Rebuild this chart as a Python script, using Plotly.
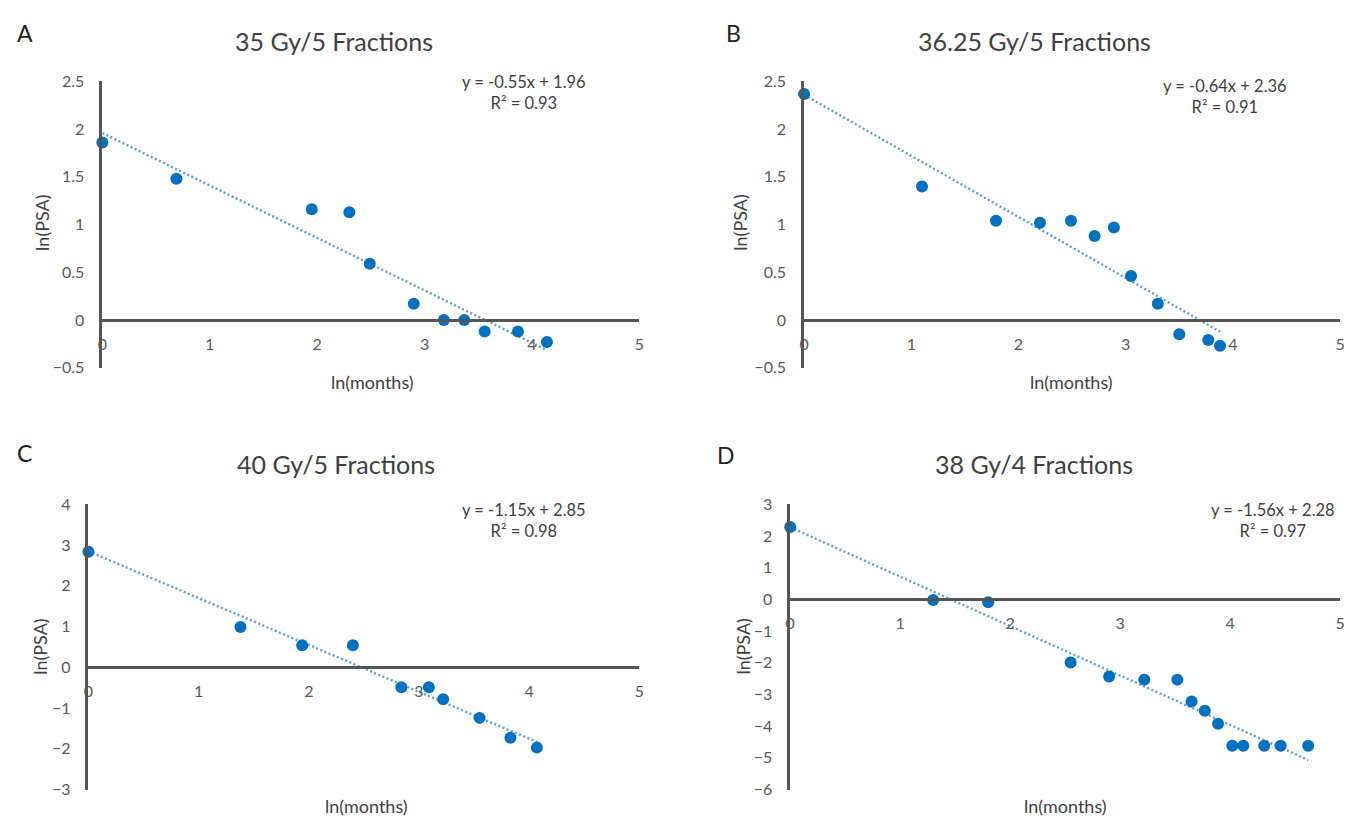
import plotly.graph_objects as go

# page is 1365x831; the html body has an 8px margin, so the figure is inset
PAGE_W, PAGE_H = 1365, 831
OFF = 8
W, H = PAGE_W - 2 * OFF, PAGE_H - 2 * OFF

# ---------------- data ----------------
panel_letters = ["A", "B", "C", "D"]
panel_titles = ["35 Gy/5 Fractions", "36.25 Gy/5 Fractions", "40 Gy/5 Fractions", "38 Gy/4 Fractions"]

x_a = [0, 0.69, 1.95, 2.30, 2.49, 2.90, 3.18, 3.37, 3.56, 3.87, 4.14]
y_a = [1.86, 1.48, 1.16, 1.13, 0.59, 0.17, 0.0, 0.0, -0.12, -0.12, -0.23]

x_b = [0, 1.10, 1.79, 2.20, 2.49, 2.71, 2.89, 3.05, 3.30, 3.50, 3.77, 3.88]
y_b = [2.37, 1.40, 1.04, 1.02, 1.04, 0.88, 0.97, 0.46, 0.17, -0.15, -0.21, -0.27]

x_c = [0, 1.38, 1.94, 2.40, 2.84, 3.09, 3.22, 3.55, 3.83, 4.07]
y_c = [2.84, 0.99, 0.54, 0.54, -0.49, -0.49, -0.78, -1.24, -1.73, -1.97]

x_d = [0, 1.30, 1.80, 2.55, 2.90, 3.22, 3.52, 3.65, 3.77, 3.89, 4.02, 4.12, 4.31, 4.46, 4.71]
y_d = [2.29, -0.02, -0.09, -1.99, -2.43, -2.53, -2.53, -3.22, -3.51, -3.92, -4.62, -4.62, -4.62, -4.62, -4.62]

slopes = [-0.55, -0.64, -1.15, -1.56]
intercepts = [1.96, 2.36, 2.85, 2.28]
r_squared = [0.93, 0.91, 0.98, 0.97]

y_ranges = [[-0.5, 2.5], [-0.5, 2.5], [-3, 4], [-6, 3]]
y_dticks = [0.5, 0.5, 1, 1]
x_range = [0, 5]
x_tickvals = [0, 1, 2, 3, 4, 5]
x_title = "ln(months)"
y_title = "ln(PSA)"

xs = [x_a, x_b, x_c, x_d]
ys = [y_a, y_b, y_c, y_d]

# ---------------- layout (page pixels) ----------------
boxes = [(98, 639, 73, 366), (805, 1345, 73, 366), (84, 639, 506, 798), (791, 1345, 506, 798)]
title_pos = [(331, 32), (1037, 32), (333, 465), (1037, 465)]
letter_pos = [(20, 23), (734, 23), (20, 453), (726, 455)]
eq_pos = [(523, 84), (1229, 88), (523, 522), (1277, 523)]
ytitle_pos = [(37, 218), (741, 218), (35, 652), (743, 652)]
xtitle_pos = [(370, 381), (1074, 381), (364, 815), (1068, 815)]

FONT = "Lato, 'Open Sans', sans-serif"
TXT = "#404040"
TICK = "#595959"
AXLINE = "#555555"
MARK = "#0070C0"
TREND = "#5B9BD5"

def px(x):
    return (x - OFF) / W

def py(y):
    return 1 - (y - OFF) / H

fig = go.Figure()
layout = dict(
    width=W, height=H, margin=dict(l=0, r=0, t=0, b=0),
    paper_bgcolor="white", plot_bgcolor="white", showlegend=False,
    font=dict(family=FONT, color=TICK),
)
annotations = []

for i in range(4):
    n = "" if i == 0 else str(i + 1)
    l, r, t, b = boxes[i]
    ydom = [py(b), py(t)]
    ymin, ymax = y_ranges[i]
    xpos = ydom[0] + (0 - ymin) / (ymax - ymin) * (ydom[1] - ydom[0])

    layout["xaxis" + n] = dict(
        domain=[px(l), px(r)], range=x_range, anchor="free", position=xpos,
        tickvals=x_tickvals, showgrid=False, zeroline=False,
        showline=True, linecolor=AXLINE, linewidth=2.5, ticks="",
        ticklabelstandoff=9, tickfont=dict(family=FONT, size=16, color=TICK),
    )
    layout["yaxis" + n] = dict(
        domain=ydom, range=y_ranges[i], anchor="x" + n,
        dtick=y_dticks[i], tick0=0, showgrid=False, zeroline=False,
        showline=True, linecolor=AXLINE, linewidth=2.5, ticks="",
        ticklabelstandoff=12, tickfont=dict(family=FONT, size=16, color=TICK),
    )

    xmax = max(xs[i])
    fig.add_trace(go.Scatter(
        x=[0, xmax], y=[intercepts[i], intercepts[i] + slopes[i] * xmax],
        mode="lines", line=dict(color=TREND, width=2.4, dash="2px,2.5px"),
        xaxis="x" + n, yaxis="y" + n, cliponaxis=False, hoverinfo="skip",
    ))
    fig.add_trace(go.Scatter(
        x=xs[i], y=ys[i], mode="markers",
        marker=dict(color=MARK, size=12, line=dict(width=0)),
        xaxis="x" + n, yaxis="y" + n, cliponaxis=False,
    ))

    annotations.append(dict(
        text=panel_titles[i], x=px(title_pos[i][0]), y=py(title_pos[i][1]),
        xref="paper", yref="paper", showarrow=False, xanchor="center", yanchor="middle",
        font=dict(family=FONT, size=25, color=TXT),
    ))
    annotations.append(dict(
        text=panel_letters[i], x=px(letter_pos[i][0]), y=py(letter_pos[i][1]),
        xref="paper", yref="paper", showarrow=False, xanchor="center", yanchor="middle",
        font=dict(family=FONT, size=23, color="#222222"),
    ))
    sign = "+" if intercepts[i] >= 0 else "-"
    eq = f"y = {slopes[i]:.2f}x {sign} {abs(intercepts[i]):.2f}<br>R² = {r_squared[i]:.2f}"
    annotations.append(dict(
        text=eq, x=px(eq_pos[i][0]), y=py(eq_pos[i][1]),
        xref="paper", yref="paper", showarrow=False, xanchor="center", yanchor="middle",
        align="center", font=dict(family=FONT, size=16.5, color=TXT),
    ))
    annotations.append(dict(
        text=y_title, x=px(ytitle_pos[i][0]), y=py(ytitle_pos[i][1]),
        xref="paper", yref="paper", showarrow=False, xanchor="center", yanchor="middle",
        textangle=-90, font=dict(family=FONT, size=18, color=TXT),
    ))
    annotations.append(dict(
        text=x_title, x=px(xtitle_pos[i][0]), y=py(xtitle_pos[i][1]),
        xref="paper", yref="paper", showarrow=False, xanchor="center", yanchor="middle",
        font=dict(family=FONT, size=18, color=TXT),
    ))

layout["annotations"] = annotations
fig.update_layout(**layout)
fig.write_html("out.html")
